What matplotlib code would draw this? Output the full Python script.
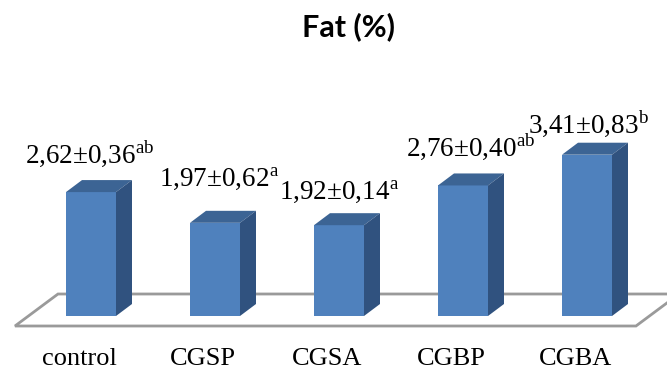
import matplotlib
matplotlib.use("Agg")
import matplotlib.pyplot as plt
from matplotlib.patches import Polygon

# Fat content per group (mean ± SD) with significance letters
categories = ["control", "CGSP", "CGSA", "CGBP", "CGBA"]
means = [2.62, 1.97, 1.92, 2.76, 3.41]
sds = [0.36, 0.62, 0.14, 0.40, 0.83]
letters = ["ab", "a", "a", "ab", "b"]

plt.rcParams["mathtext.fontset"] = "custom"
plt.rcParams["mathtext.rm"] = "Liberation Serif"

W, H, DPI = 667, 372, 100
fig = plt.figure(figsize=(W / DPI, H / DPI), dpi=DPI)
ax = fig.add_axes([0, 0, 1, 1])

# scale: 124 px per category step, 47.3 px per percent unit
px_x, px_y = 124.0, 47.3
x0_px, y0_px = 91.0, 316.0
ax.set_xlim(-x0_px / px_x, (W - x0_px) / px_x)
ax.set_ylim(-(H - y0_px) / px_y, y0_px / px_y)
ax.axis("off")

# 3-D depth of bars and floor, in data units
bar_w = 50 / px_x
ddx, ddy = 16 / px_x, 12 / px_y
fdx, fdy = 43 / px_x, 32 / px_y

front_c = "#4f81bd"
top_c = "#3c6494"
side_c = "#30527f"

# floor plane
fl_left, fl_right = -0.613, 4.395
fl_front = -10 / px_y
floor = Polygon([(fl_left, fl_front), (fl_right, fl_front),
                 (fl_right + fdx, fl_front + fdy), (fl_left + fdx, fl_front + fdy)],
                closed=True, facecolor="white", edgecolor="#9a9a9a", lw=2, zorder=1)
ax.add_patch(floor)

for i, v in enumerate(means):
    xl, xr = i - bar_w / 2, i + bar_w / 2
    ax.add_patch(Polygon([(xl, 0), (xr, 0), (xr, v), (xl, v)], closed=True,
                         facecolor=front_c, edgecolor="none", zorder=3))
    ax.add_patch(Polygon([(xl, v), (xr, v), (xr + ddx, v + ddy), (xl + ddx, v + ddy)],
                         closed=True, facecolor=top_c, edgecolor="none", zorder=3))
    ax.add_patch(Polygon([(xr, 0), (xr + ddx, ddy), (xr + ddx, v + ddy), (xr, v)],
                         closed=True, facecolor=side_c, edgecolor="none", zorder=3))

# value labels above bars (pixel nudges)
label_dx = [-1, 4, 0, 8, 1]
label_dy = [39, 44, 34, 39, 31]
for i, (m, s, l) in enumerate(zip(means, sds, letters)):
    txt = f"{m:.2f}±{s:.2f}".replace(".", ",") + r"$^{\mathrm{" + l + "}}$"
    ax.annotate(txt, xy=(i, m), xytext=(label_dx[i], label_dy[i]),
                textcoords="offset pixels", ha="center", va="center",
                fontsize=19.5, family="Liberation Serif", color="black", zorder=5)

# category labels along the front edge of the floor
for i, c in enumerate(categories):
    ax.annotate(c, xy=(i, fl_front), xytext=(-12, -33), textcoords="offset pixels",
                ha="center", va="center", fontsize=19, family="Liberation Serif",
                color="black")

fig.text(349 / W, 1 - 27 / H, "Fat (%)", ha="center", va="center",
         fontsize=22, fontweight="bold", family="Lato")

fig.savefig("out.png", dpi=DPI)
